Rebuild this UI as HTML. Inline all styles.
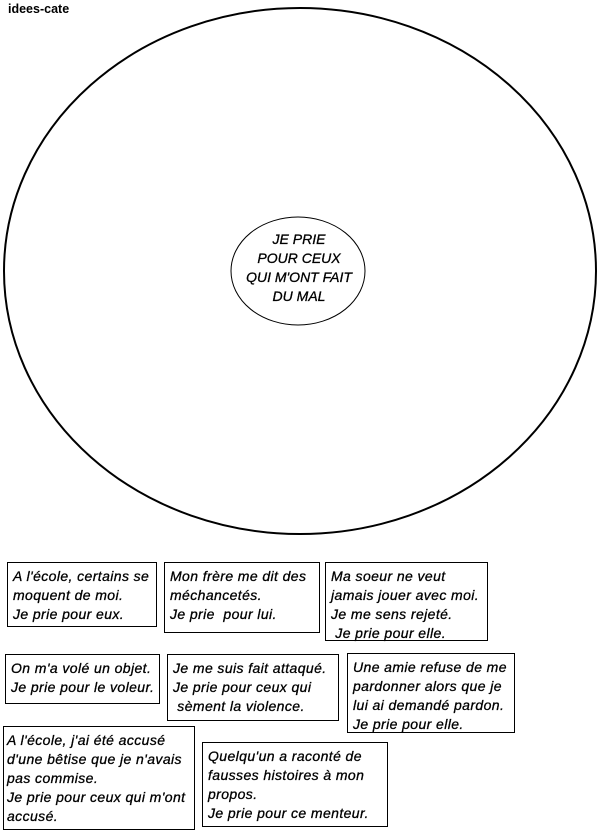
<!DOCTYPE html>
<html><head><meta charset="utf-8"><style>
body{margin:0;width:604px;height:834px;background:#fff;position:relative;overflow:hidden;font-family:"Liberation Sans",sans-serif;}
.b{position:absolute;border:1px solid #000;box-sizing:border-box;font-style:italic;font-size:14px;line-height:19px;white-space:pre;padding:4px 0 0 5px;letter-spacing:0.4px;color:#000;-webkit-text-stroke:0.3px #000}
.t{position:absolute;left:8px;top:2px;font-size:12.5px;font-weight:bold;}
</style></head><body>
<div class="t">idees-cate</div>
<svg width="604" height="834" style="position:absolute;left:0;top:0">
<ellipse cx="300" cy="271" rx="296" ry="263" fill="none" stroke="#000" stroke-width="2"/>
<ellipse cx="298" cy="271" rx="67" ry="54" fill="none" stroke="#000" stroke-width="1"/>
<g font-family="Liberation Sans, sans-serif" font-style="italic" font-size="14" text-anchor="middle" stroke="#000" stroke-width="0.3" letter-spacing="0">
<text x="299" y="244">JE PRIE</text>
<text x="299" y="263">POUR CEUX</text>
<text x="299" y="282">QUI M'ONT FAIT</text>
<text x="299" y="301">DU MAL</text>
</g></svg>
<div class="b" style="left:7px;top:562px;width:150px;height:65px">A l'école, certains se
moquent de moi.
Je prie pour eux.</div>
<div class="b" style="left:164px;top:562px;width:156px;height:71px">Mon frère me dit des
méchancetés.
Je prie  pour lui.</div>
<div class="b" style="left:325px;top:562px;width:163px;height:79px">Ma soeur ne veut
jamais jouer avec moi.
Je me sens rejeté.
 Je prie pour elle.</div>
<div class="b" style="left:5px;top:654px;width:155px;height:50px">On m'a volé un objet.
Je prie pour le voleur.</div>
<div class="b" style="left:167px;top:654px;width:172px;height:67px">Je me suis fait attaqué.
Je prie pour ceux qui
 sèment la violence.</div>
<div class="b" style="left:347px;top:653px;width:168px;height:80px">Une amie refuse de me
pardonner alors que je
lui ai demandé pardon.
Je prie pour elle.</div>
<div class="b" style="left:3px;top:726px;width:192px;height:104px;padding-left:3px">A l'école, j'ai été accusé
d'une bêtise que je n'avais
pas commise.
Je prie pour ceux qui m'ont
accusé.</div>
<div class="b" style="left:202px;top:742px;width:186px;height:85px">Quelqu'un a raconté de
fausses histoires à mon
propos.
Je prie pour ce menteur.</div>
</body></html>
